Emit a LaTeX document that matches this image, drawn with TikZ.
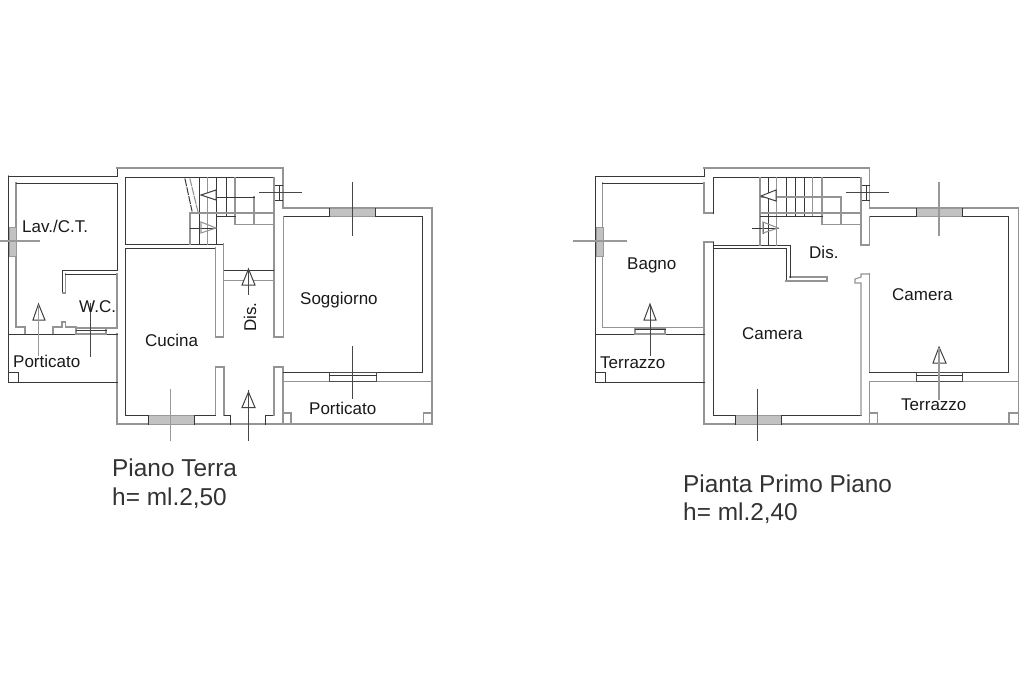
\documentclass[tikz,border=0pt]{standalone}
\usepackage{fontspec}
\setmainfont{Liberation Sans}
\tikzset{
  dk/.style={draw=black!78,line width=1pt,line cap=rect,line join=miter},
  gr/.style={draw=black!42,line width=1.1pt,line cap=rect,line join=miter},
  win/.style={draw=black!40,line width=1pt,fill=black!24},
  wino/.style={draw=black!70,line width=1pt,fill=white},
  cross/.style={draw=black!72,line width=1pt},
  crossg/.style={draw=black!40,line width=1.1pt},
  tip/.style={draw=black!75,line width=1pt,fill=white,line join=miter},
  lab/.style={font=\fontsize{17}{18}\selectfont,inner sep=0pt,text=black!90,anchor=base west},
  title/.style={font=\fontsize{24.4}{26}\selectfont,inner sep=0pt,text=black!80,anchor=base west}
}
\begin{document}
\begin{tikzpicture}[x=1pt,y=-1pt]
\useasboundingbox (0,0) rectangle (1024,682);
% ================= PIANO TERRA =================
% outer wall
\draw[gr] (8.5,372) -- (8.5,176);
\draw[dk] (8.5,382) -- (8.5,176) -- (117,176) -- (117,168);
\draw[gr] (117,168) -- (283,168) -- (283,208) -- (432,208) -- (432,424) -- (117,424) -- (117,334);
\draw[dk] (117,382) -- (8.5,382);
% Lav / WC
\draw[gr] (16,327) -- (16,183);
\draw[dk] (16,183) -- (117,183) -- (117,270) -- (62.5,270) -- (62.5,293);
\draw[gr] (62.5,293) -- (65.5,293) -- (65.5,274);
\draw[dk] (65.5,274) -- (117,274);
\draw[gr] (117,274) -- (117,328) -- (106,328);
\draw[gr] (16,327) -- (25,327) -- (25,334);
\draw[gr] (53,334) -- (53,327) -- (62,327) -- (62,322) -- (65.5,322) -- (65.5,327) -- (76,327);
\draw[dk] (8.5,334) -- (117,334);
\draw[dk] (8.5,372) -- (18,372) -- (18,382);
% kitchen block
\draw[dk] (125.5,177.5) -- (274,177.5);
\draw[dk] (125.5,177.5) -- (125.5,244) -- (223.5,244);
\draw[gr] (223.5,244) -- (223.5,337) -- (215.5,337);
\draw[dk] (125.5,248) -- (125.5,415.5) -- (148,415.5);
\draw[dk] (125.5,248) -- (215.5,248);
\draw[gr] (215.5,248) -- (215.5,337);
\draw[gr] (215.5,415.5) -- (215.5,367) -- (224,367) -- (224,415.5);
\draw[dk] (194,415.5) -- (215.5,415.5);
\draw[dk] (224,415.5) -- (230.5,415.5) -- (230.5,424);
\draw[dk] (265,424) -- (265,415.5) -- (274,415.5);
\draw[gr] (274,415.5) -- (274,367) -- (283,367) -- (283,424);
\draw[dk] (283,372) -- (329,372);
\draw[dk] (376,372) -- (422,372) -- (422,216.7) -- (376,216.7);
\draw[dk] (329,216.7) -- (283.3,216.7);
\draw[gr] (283.3,216.7) -- (283.3,337) -- (274,337) -- (274,177.5);
\draw[gr] (283,381.5) -- (432,381.5);
\draw[gr] (283,413) -- (291,413) -- (291,424);
\draw[gr] (432,413) -- (423.5,413) -- (423.5,424);
% stairs
\draw[dk] (199,177.5) -- (199,244);
\draw[gr] (207.3,177.5) -- (207.3,244);
\draw[dk] (216.7,177.5) -- (216.7,244);
\draw[dk] (226,177.5) -- (226,216.5);
\draw[gr] (235,177.5) -- (235,224.3) -- (274,224.3);
\draw[gr] (254,197) -- (254,224.3);
\draw[gr] (190,244) -- (190,213) -- (274,213);
\draw[dk] (216.7,216.5) -- (235,216.5);
\draw[dk] (207,197) -- (254,197);
\draw[dk,dash pattern=on 7pt off 2pt] (185,179) -- (192,211);
\draw[gr,dash pattern=on 7pt off 2pt] (190,179) -- (198,212);
\draw[tip] (201,195) -- (216,190) -- (216,200) -- cycle;
\draw[dk] (190,228) -- (216,228);
\draw[gr] (201,222) -- (216,228) -- (201,233) -- cycle;
% Dis door
\draw[dk] (224,270) -- (273,270);
\draw[gr] (224,280.7) -- (273,280.7);
\draw[tip] (248.5,269) -- (255,285) -- (242,285) -- cycle;
\draw[cross] (248.5,270) -- (248.5,295);
\draw[tip] (248.5,392) -- (255,407.5) -- (242,407.5) -- cycle;
\draw[cross] (248.5,390) -- (248.5,441);
% windows & section marks
\draw[win] (9,227) rectangle (16,256);
\draw[crossg] (0,241) -- (40,241);
\draw[win] (329.5,208) rectangle (375.5,216.7);
\draw[dk] (329.5,208) -- (329.5,216.7);
\draw[dk] (375.5,208) -- (375.5,216.7);
\draw[cross] (352.5,182) -- (352.5,236);
\draw[wino] (329,372) rectangle (376,381);
\draw[dk] (329,375) -- (376,375);
\draw[cross] (352.5,346) -- (352.5,399);
\draw[win] (148,415.5) rectangle (194,424);
\draw[dk] (148,415.5) -- (148,424);
\draw[dk] (194,415.5) -- (194,424);
\draw[crossg] (170.5,389) -- (170.5,441);
\draw[gr,fill=white] (76,328) rectangle (106,334);
\draw[dk] (76,330.5) -- (106,330.5);
\draw[cross] (90.5,303) -- (90.5,357);
\draw[tip] (38.5,304) -- (45,320) -- (33,320) -- cycle;
\draw[crossg] (38.5,305) -- (38.5,356);
\draw[cross] (259,192) -- (302,192);
\draw[dk] (279,185) -- (279,200);
\draw[dk] (275,185) -- (282,185);
\draw[dk] (275,200) -- (282,200);
% texts
\node[lab] (t1) at (22,232) {Lav./C.T.};
\node[lab] (t2) at (79,312) {W.C.};
\node[lab] (t3) at (13,367) {Porticato};
\node[lab] (t4) at (145,346) {Cucina};
\node[lab,rotate=90] (t5) at (256,332) {Dis.};
\node[lab] (t6) at (300,304) {Soggiorno};
\node[lab] (t7) at (309,414) {Porticato};
\node[title] (t8) at (112,476) {Piano Terra};
\node[title] (t9) at (112,505) {h= ml.2,50};
% ================= PRIMO PIANO =================
\draw[dk] (595,382) -- (595,176) -- (704,176) -- (704,168);
\draw[gr] (704,168) -- (869.3,168) -- (869.3,208) -- (1018.3,208) -- (1018.3,424) -- (704,424) -- (704,242) -- (713.3,242);
\draw[dk] (704,382) -- (595,382);
\draw[dk] (595,334) -- (704,334);
\draw[dk] (595,372) -- (605,372) -- (605,382);
% Bagno
\draw[gr] (602.7,327.7) -- (602.7,183);
\draw[dk] (602.7,183) -- (704,183);
\draw[gr] (704,183) -- (704,213) -- (713.3,213);
\draw[dk] (713.3,213) -- (713.3,177.5) -- (861,177.5);
\draw[gr] (602.7,327.7) -- (635,327.7);
\draw[gr] (665,327.7) -- (704,327.7);
% central Camera
\draw[dk] (713.3,242) -- (713.3,415.5) -- (735,415.5);
\draw[dk] (713.3,248) -- (786,248);
\draw[dk] (786,248) -- (786,281);
\draw[gr] (786,281) -- (827,281) -- (827,277) -- (790,277);
\draw[dk] (790,277) -- (790,245) -- (713.3,245);
\draw[dk] (781,415.5) -- (861,415.5);
\draw[gr] (861,415.5) -- (861,283) -- (855,283) -- (855,279) -- (861,277) -- (861,274) -- (869.5,274);
% right Camera
\draw[gr] (869.5,274) -- (869.5,372);
\draw[dk] (869.5,372) -- (916,372);
\draw[dk] (962,372) -- (1008.3,372) -- (1008.3,216.7) -- (962,216.7);
\draw[dk] (916,216.7) -- (869.5,216.7);
\draw[gr] (869.5,216.7) -- (869.5,245) -- (861,245) -- (861,177.5);
% terrazzo
\draw[gr] (869.5,381.5) -- (1018.3,381.5);
\draw[gr] (869.5,381.5) -- (869.5,424);
\draw[gr] (869.5,413) -- (877.5,413) -- (877.5,424);
\draw[gr] (1018.3,413) -- (1009,413) -- (1009,424);
% stairs
\draw[gr] (760,177.5) -- (760,245);
\draw[dk] (768.7,177.5) -- (768.7,245);
\draw[gr] (776.7,177.5) -- (776.7,245);
\draw[dk] (786,177.5) -- (786,216);
\draw[dk] (795,177.5) -- (795,216);
\draw[dk] (804,177.5) -- (804,216);
\draw[gr] (812.7,177.5) -- (812.7,216);
\draw[gr] (822,177.5) -- (822,224.3) -- (861,224.3);
\draw[gr] (841,197) -- (841,224.3);
\draw[gr] (760,213) -- (861,213);
\draw[dk] (760,216) -- (822,216);
\draw[gr] (762,197) -- (841,197);
\draw[tip] (761,196) -- (776,190) -- (776,201) -- cycle;
\draw[dk] (752,228) -- (778,228);
\draw[dk] (763,222) -- (763,233);
\draw[gr] (763,222) -- (778,228) -- (763,233) -- cycle;
% windows & section marks
\draw[win] (596,227) rectangle (603,256);
\draw[crossg] (573,241) -- (626.7,241);
\draw[win] (916,208) rectangle (962,216.7);
\draw[dk] (916,208) -- (916,216.7);
\draw[dk] (962,208) -- (962,216.7);
\draw[crossg] (939,182) -- (939,236);
\draw[wino] (916,372) rectangle (962,381);
\draw[dk] (916,375) -- (962,375);
\draw[tip] (939,347) -- (946,363) -- (933,363) -- cycle;
\draw[crossg] (939,348) -- (939,400);
\draw[win] (735,415.5) rectangle (781,424);
\draw[dk] (735,415.5) -- (735,424);
\draw[dk] (781,415.5) -- (781,424);
\draw[cross] (757.5,389) -- (757.5,441);
\draw[gr,fill=white] (635,328) rectangle (665,334);
\draw[dk] (635,329) -- (665,329);
\draw[tip] (650,304) -- (656,320) -- (644,320) -- cycle;
\draw[cross] (650,305) -- (650,356);
\draw[cross] (846,192) -- (888.7,192);
\draw[dk] (866,185) -- (866,200);
\draw[dk] (862,185) -- (869,185);
\draw[dk] (862,200) -- (869,200);
% texts
\node[lab] (u1) at (627,269) {Bagno};
\node[lab] (u2) at (809,258) {Dis.};
\node[lab] (u3) at (892,300) {Camera};
\node[lab] (u4) at (742,339) {Camera};
\node[lab] (u5) at (600,368) {Terrazzo};
\node[lab] (u6) at (901,410) {Terrazzo};
\node[title] (u7) at (683,492) {Pianta Primo Piano};
\node[title] (u8) at (683,520) {h= ml.2,40};
\end{tikzpicture}
\end{document}
